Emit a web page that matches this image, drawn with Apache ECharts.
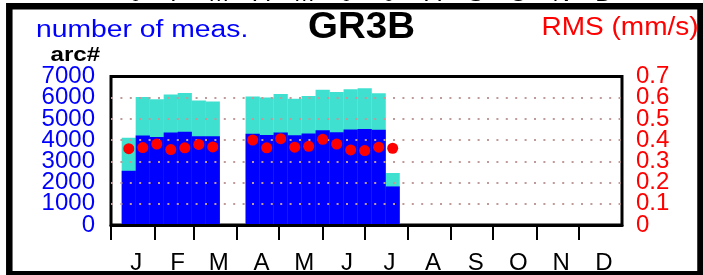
<!DOCTYPE html>
<html>
<head>
<meta charset="utf-8">
<script src="https://cdn.jsdelivr.net/npm/echarts@6/dist/echarts.min.js"></script>
<style>
  html, body { margin: 0; padding: 0; background: #fff; }
  #gr3b { width: 703px; height: 275px; }
</style>
</head>
<body>
<div id="gr3b"></div>
<script>
// centre of each 10-day bin, in day of year
const binDays = [12.7, 22.7, 32.7, 42.7, 52.7, 62.7, 72.7,
  101.2, 111.2, 121.2, 131.2, 141.2, 151.2, 161.2, 171.2, 181.2, 191.2, 201.2];
// number of meas. per bin: all arcs (turquoise) and used arcs (blue)
const arcsTotal = [4110, 6036, 5930, 6152, 6227, 5872, 5828,
  6063, 6019, 6183, 5961, 6081, 6374, 6272, 6405, 6449, 6214, 2454];
const arcsUsed = [2557, 4217, 4154, 4363, 4394, 4185, 4185,
  4305, 4243, 4363, 4230, 4319, 4465, 4376, 4509, 4527, 4496, 1820];
// RMS (mm/s), red dots
const rms = [0.360, 0.365, 0.382, 0.356, 0.364, 0.380, 0.368,
  0.401, 0.364, 0.407, 0.367, 0.371, 0.404, 0.382, 0.354, 0.351, 0.367, 0.362];

const monthStart = [0, 31, 59, 90, 120, 151, 181, 212, 243, 273, 304, 334];
const monthMid = [15.5, 45, 74.5, 105, 135.5, 166, 196.5, 227.5, 258, 288.5, 319, 349.5];
const monthLetters = ['J', 'F', 'M', 'A', 'M', 'J', 'J', 'A', 'S', 'O', 'N', 'D'];
// tick labels, split in two sets so echarts does not drop the crowded ones
const arcTicksEven = [0, 2000, 4000, 6000];
const arcTicksOdd = [1000, 3000, 5000, 7000];
const rmsTicksEven = [0, 0.2, 0.4, 0.6];
const rmsTicksOdd = [0.1, 0.3, 0.5, 0.7];

const FONT = '"Liberation Sans", Arial, Helvetica, sans-serif';

function monthLabel(v) {
  let best = 0;
  for (let i = 1; i < monthMid.length; i++) {
    if (Math.abs(monthMid[i] - v) < Math.abs(monthMid[best] - v)) best = i;
  }
  return monthLetters[best];
}

const chart = echarts.init(document.getElementById('gr3b'));

const pairs = (ys) => binDays.map((d, i) => [d, ys[i]]);

function arcAxis(ticks, withGrid) {
  return {
    type: 'value', gridIndex: 0, position: 'left', min: 0, max: 7000, interval: 1000, z: 3,
    axisLine: { show: false }, axisTick: { show: false },
    axisLabel: { customValues: ticks, color: '#0000ff', fontSize: 24, fontFamily: FONT,
      margin: 16, formatter: (v) => String(v) },
    splitLine: { show: withGrid, showMinLine: false, showMaxLine: false,
      lineStyle: { color: '#bf9a9a', width: 2, type: [2, 7.4] } }
  };
}

function rmsAxis(ticks) {
  return {
    type: 'value', gridIndex: 0, position: 'right', min: 0, max: 0.7, interval: 0.1,
    axisLine: { show: false }, axisTick: { show: false },
    axisLabel: { customValues: ticks, color: '#ff0000', fontSize: 24, fontFamily: FONT,
      margin: 14, formatter: (v) => String(Math.round(v * 10) / 10) },
    splitLine: { show: false }
  };
}

const monthAxisLabel = { customValues: monthMid, formatter: monthLabel, margin: 26,
  color: '#000', fontSize: 24, fontFamily: FONT, padding: [0, 0, 0, 7] };

const option = {
  animation: false,
  backgroundColor: '#fff',
  grid: [
    { left: 111, right: 81, top: 76.6, bottom: 40.7, show: true,
      borderColor: '#000', borderWidth: 3, backgroundColor: 'transparent' },
    // panel above, only the feet of its month letters peek in
    { left: 111, right: 81, top: -106, height: 50, show: false }
  ],
  xAxis: [
    {
      type: 'value', gridIndex: 0, min: 0, max: 365, z: 3,
      axisLine: { show: true, lineStyle: { color: '#000', width: 3 } },
      axisTick: { show: true, customValues: monthStart, length: 15,
        lineStyle: { color: '#000', width: 2 } },
      axisLabel: monthAxisLabel,
      splitLine: { show: false }
    },
    {
      type: 'value', gridIndex: 1, min: 0, max: 365,
      axisLine: { show: false }, axisTick: { show: false },
      axisLabel: monthAxisLabel,
      splitLine: { show: false }
    }
  ],
  yAxis: [
    arcAxis(arcTicksEven, true),
    arcAxis(arcTicksOdd, false),
    rmsAxis(rmsTicksEven),
    rmsAxis(rmsTicksOdd),
    { type: 'value', gridIndex: 1, min: 0, max: 1, show: false }
  ],
  series: [
    {
      name: 'all arcs', type: 'bar', xAxisIndex: 0, yAxisIndex: 0,
      barWidth: 14.2, barGap: '-100%', z: 2,
      itemStyle: { color: '#40e0d0' },
      data: pairs(arcsTotal)
    },
    {
      name: 'used arcs', type: 'bar', xAxisIndex: 0, yAxisIndex: 0,
      barWidth: 14.2, barGap: '-100%', z: 2,
      itemStyle: { color: '#0000ff' },
      data: pairs(arcsUsed)
    },
    {
      name: 'RMS', type: 'scatter', xAxisIndex: 0, yAxisIndex: 2, z: 5,
      symbol: 'circle', symbolSize: 11,
      itemStyle: { color: '#ff0000', opacity: 1 },
      data: pairs(rms)
    }
  ],
  graphic: [
    { type: 'text', x: 36, y: 30.7, scaleX: 1.23, z: 10,
      style: { text: 'number of meas.', fill: '#0000ff', font: '23px ' + FONT,
        align: 'left', verticalAlign: 'middle' } },
    { type: 'text', x: 361.5, y: 27.5, scaleX: 1.04, z: 10,
      style: { text: 'GR3B', fill: '#000', font: 'bold 37px ' + FONT,
        align: 'center', verticalAlign: 'middle' } },
    { type: 'text', x: 541.5, y: 28.3, scaleX: 1.12, z: 10,
      style: { text: 'RMS (mm/s)', fill: '#ff0000', font: '25px ' + FONT,
        align: 'left', verticalAlign: 'middle' } },
    { type: 'text', x: 50.5, y: 55.4, scaleX: 1.15, z: 10,
      style: { text: 'arc#', fill: '#000', font: 'bold 21px ' + FONT,
        align: 'left', verticalAlign: 'middle' } },
    // outer panel frame
    { type: 'rect', z: 100,
      shape: { x: 9.3, y: 6.3, width: 691.2, height: 268 },
      style: { fill: 'none', stroke: '#000', lineWidth: 6.5 } }
  ]
};

chart.setOption(option);
</script>
</body>
</html>
